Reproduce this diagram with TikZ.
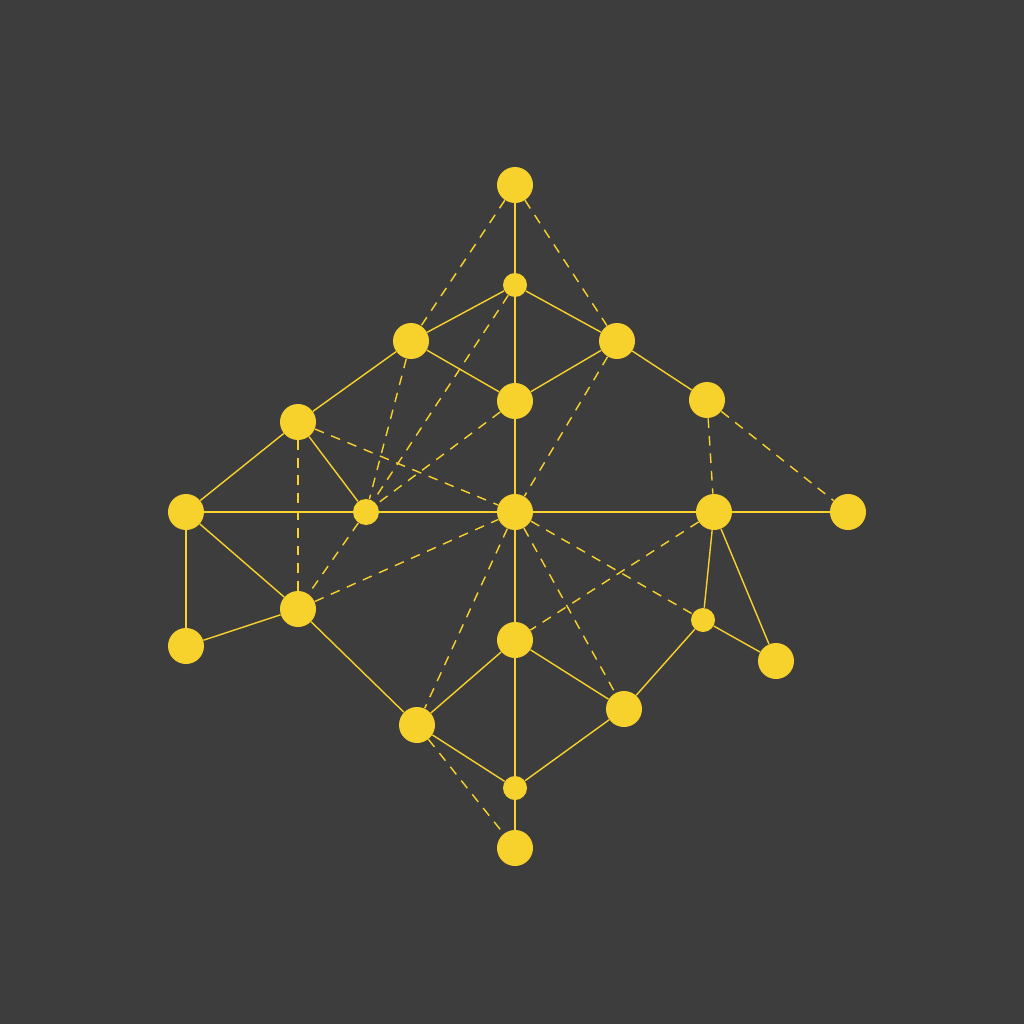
\documentclass[tikz,border=0pt]{standalone}
\begin{document}
\begin{tikzpicture}[x=0.02cm,y=-0.02cm,
  big/.style={circle,fill=nodey,inner sep=0pt,minimum size=0.72cm},
  small/.style={circle,fill=nodey,inner sep=0pt,minimum size=0.48cm},
  solidedge/.style={draw=nodey,line width=0.8pt},
  dashedge/.style={draw=nodey,line width=0.8pt,dash pattern=on 5.5pt off 4.5pt}]
\definecolor{bgc}{HTML}{3D3D3D}
\definecolor{nodey}{HTML}{F8D22C}
\fill[bgc] (0,0) rectangle (1024,1024);
\useasboundingbox (0,0) rectangle (1024,1024);
\node[big] (A) at (515,185) {};
\node[small] (B) at (515,285) {};
\node[big] (C) at (411,341) {};
\node[big] (D) at (617,341) {};
\node[big] (E) at (515,401) {};
\node[big] (F) at (707,400) {};
\node[big] (G) at (298,422) {};
\node[big] (H) at (186,512) {};
\node[small,minimum size=0.52cm] (I) at (366,512) {};
\node[big] (J) at (515,512) {};
\node[big] (K) at (714,512) {};
\node[big] (L) at (848,512) {};
\node[big] (M) at (298,609) {};
\node[big] (N) at (186,646) {};
\node[big] (O) at (515,640) {};
\node[small] (P) at (703,620) {};
\node[big] (Q) at (776,661) {};
\node[big] (R) at (624,709) {};
\node[big] (S) at (417,725) {};
\node[small] (T) at (515,788) {};
\node[big] (U) at (515,848) {};
% solid
\foreach \a/\b in {A/B,B/E,E/J,J/O,O/T,T/U,B/C,B/D,C/E,D/E,C/G,D/F,G/H,G/I,H/I,I/J,J/K,K/L,H/N,H/M,N/M,M/S,S/O,O/R,S/T,T/R,R/P,P/Q,K/P,K/Q}
  \draw[solidedge] (\a) -- (\b);
% dashed
\foreach \a/\b in {A/C,A/D,B/I,C/I,E/I,D/J,G/J,G/M,I/M,M/J,F/K,F/L,J/S,J/R,J/P,K/O,S/U}
  \draw[dashedge] (\a) -- (\b);
\end{tikzpicture}
\end{document}
